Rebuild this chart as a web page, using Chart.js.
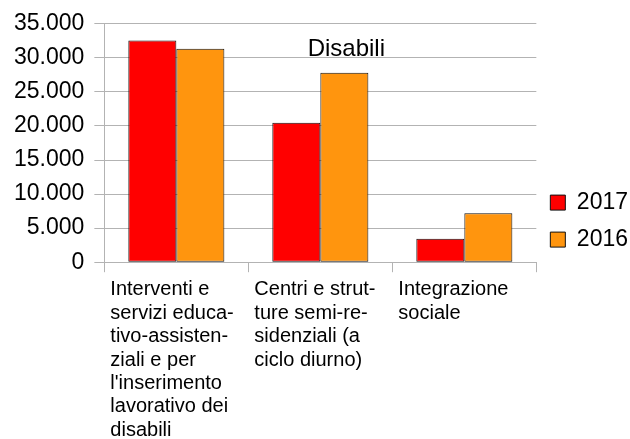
<!DOCTYPE html>
<html>
<head>
<meta charset="utf-8">
<script src="https://cdn.jsdelivr.net/npm/chart.js@4"></script>
<style>
  body { margin: 0; background: #fff; }
</style>
</head>
<body>
<canvas id="chart" width="630" height="439"></canvas>
<script>
// categories, already wrapped the way the original chart breaks them
var categories = [
    ['Interventi e', 'servizi educa-', 'tivo-assisten-', 'ziali e per', "l'inserimento", 'lavorativo dei', 'disabili'],
    ['Centri e strut-', 'ture semi-re-', 'sidenziali (a', 'ciclo diurno)'],
    ['Integrazione', 'sociale']
];
var seriesNames = ['2017', '2016'];
var values2017 = [32560, 20470, 3460];
var values2016 = [31330, 27800, 7200];
var chartTitle = 'Disabili';

var gridColor = '#b3b3b3';

function formatThousands(value) {
    return String(value).replace(/\B(?=(\d{3})+(?!\d))/g, '.');
}

// title floats inside the plot area, a bit right of centre
var floatingTitle = {
    id: 'floatingTitle',
    afterDraw: function(chart) {
        var ctx = chart.ctx;
        var area = chart.chartArea;
        ctx.save();
        ctx.font = '24px "Liberation Sans", Arial, sans-serif';
        ctx.fillStyle = '#000';
        ctx.textAlign = 'center';
        ctx.textBaseline = 'middle';
        ctx.fillText(chartTitle, (area.left + area.right) / 2 + 26, area.top + 26);
        ctx.restore();
    }
};

var barChart = new Chart(document.getElementById('chart'), {
    type: 'bar',
    data: {
        labels: categories,
        datasets: [{
            label: seriesNames[0],
            data: values2017,
            backgroundColor: '#ff0000',
            borderColor: '#111111',
            borderWidth: 1,
            borderSkipped: false
        }, {
            label: seriesNames[1],
            data: values2016,
            backgroundColor: '#ff950e',
            borderColor: '#111111',
            borderWidth: 1,
            borderSkipped: false
        }]
    },
    options: {
        responsive: false,
        animation: false,
        // the last category label runs off the bottom in the original
        layout: { padding: { left: 4, top: 8, right: -8, bottom: -9 } },
        datasets: {
            bar: { categoryPercentage: 0.667, barPercentage: 1 }
        },
        scales: {
            x: {
                grid: {
                    offset: true,
                    drawOnChartArea: false,
                    drawTicks: true,
                    tickLength: 10,
                    color: gridColor
                },
                border: { color: gridColor },
                ticks: {
                    autoSkip: false,
                    maxRotation: 0,
                    minRotation: 0,
                    align: 'start',
                    labelOffset: -66,
                    padding: 6,
                    color: '#000',
                    font: { family: '"Liberation Sans", Arial, sans-serif', size: 20, lineHeight: 1.17 }
                }
            },
            y: {
                min: 0,
                max: 35000,
                grid: { color: gridColor, tickLength: 10 },
                border: { color: gridColor },
                ticks: {
                    stepSize: 5000,
                    padding: 10,
                    color: '#000',
                    font: { family: '"Liberation Sans", Arial, sans-serif', size: 23 },
                    callback: function(value) { return formatThousands(value); }
                }
            }
        },
        plugins: {
            legend: {
                position: 'right',
                // empty title with negative padding just lifts the items a little
                title: { display: true, text: '', font: { size: 1 }, padding: { top: -15, bottom: 0 } },
                labels: {
                    boxWidth: 15,
                    boxHeight: 15,
                    padding: 14,
                    color: '#000',
                    font: { family: '"Liberation Sans", Arial, sans-serif', size: 23 }
                }
            },
            title: { display: false },
            tooltip: { enabled: false }
        }
    },
    plugins: [floatingTitle]
});
</script>
</body>
</html>
